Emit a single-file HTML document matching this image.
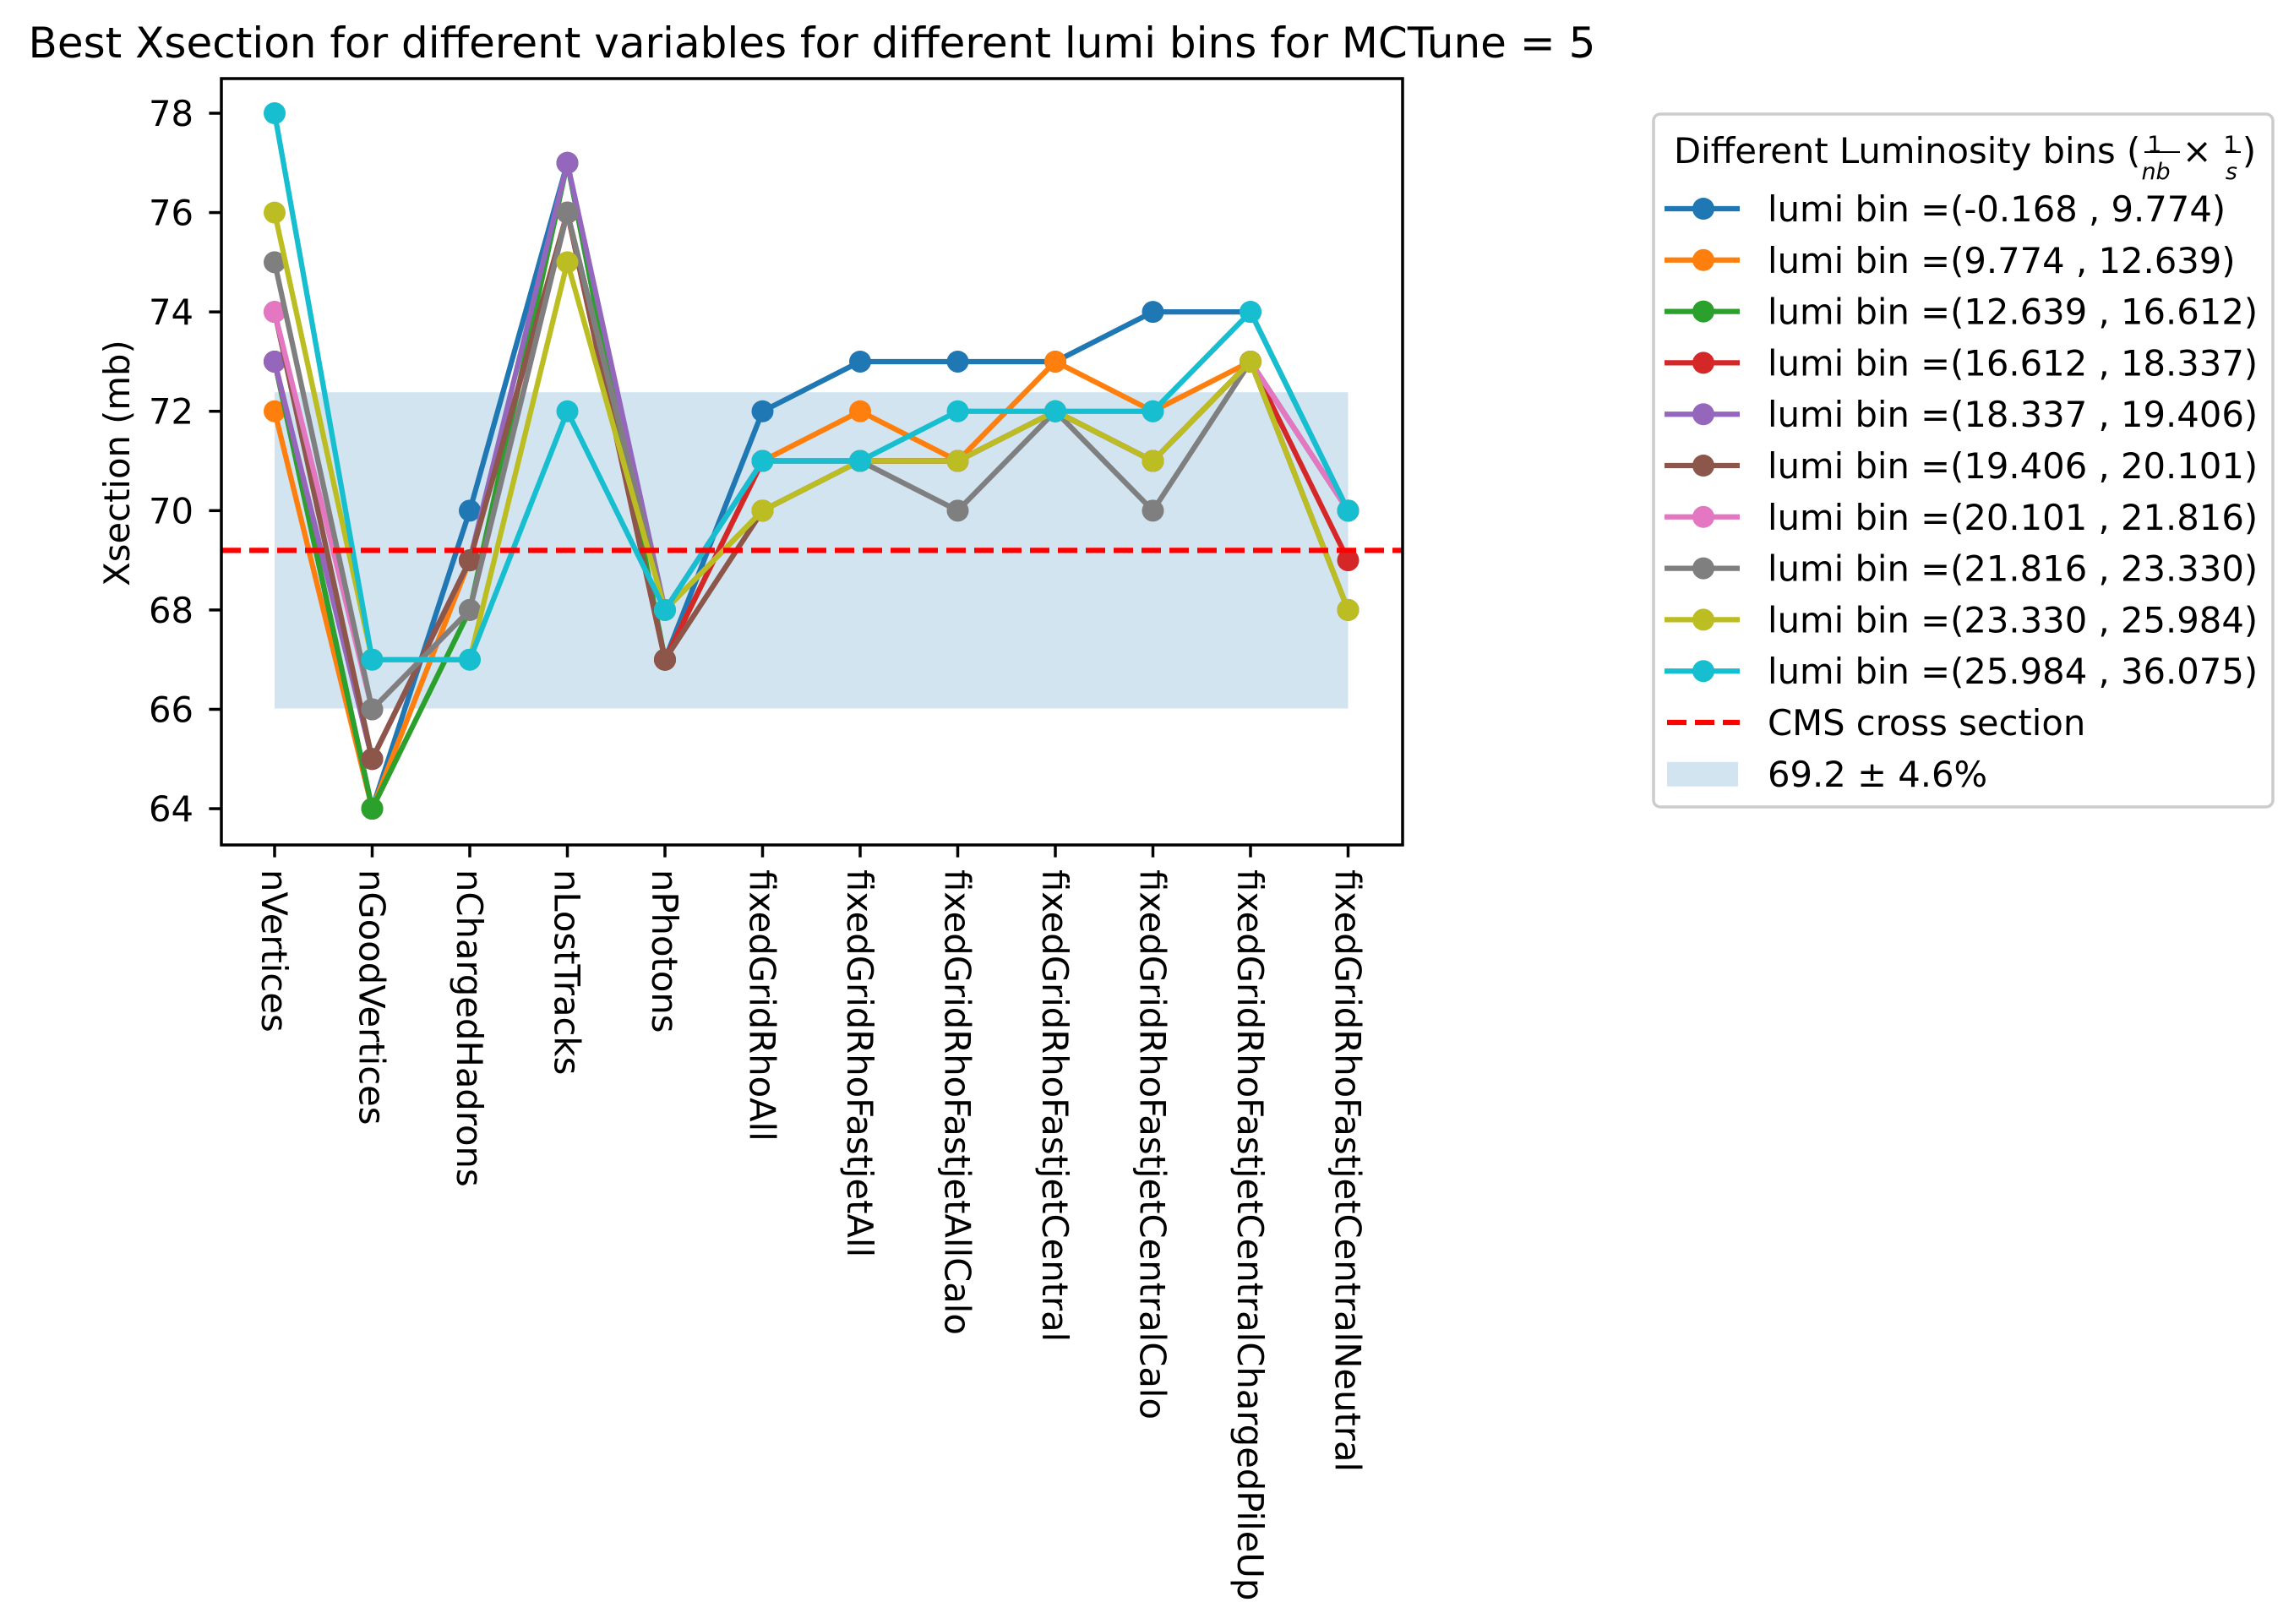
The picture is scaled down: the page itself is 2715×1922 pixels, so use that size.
<!DOCTYPE html>
<html>
<head>
<meta charset="utf-8">
<style>
  html, body { margin: 0; padding: 0; background: #fff; }
  svg { display: block; }
  text { font-family: "DejaVu Sans", "Liberation Sans", sans-serif; fill: #000; }
</style>
</head>
<body>
<svg id="chart" width="2715" height="1922" viewBox="0 0 2715 1922" xmlns="http://www.w3.org/2000/svg">
  <text x="961" y="68" font-size="50" text-anchor="middle">Best Xsection for different variables for different lumi bins for MCTune = 5</text>
  <g id="plot"></g>
  <g id="legend"></g>
</svg>
<script>
const categories = ["nVertices","nGoodVertices","nChargedHadrons","nLostTracks","nPhotons","fixedGridRhoAll","fixedGridRhoFastjetAll","fixedGridRhoFastjetAllCalo","fixedGridRhoFastjetCentral","fixedGridRhoFastjetCentralCalo","fixedGridRhoFastjetCentralChargedPileUp","fixedGridRhoFastjetCentralNeutral"];
const seriesLabels = ["lumi bin =(-0.168 , 9.774)","lumi bin =(9.774 , 12.639)","lumi bin =(12.639 , 16.612)","lumi bin =(16.612 , 18.337)","lumi bin =(18.337 , 19.406)","lumi bin =(19.406 , 20.101)","lumi bin =(20.101 , 21.816)","lumi bin =(21.816 , 23.330)","lumi bin =(23.330 , 25.984)","lumi bin =(25.984 , 36.075)"];
const seriesColors = ["#1f77b4","#ff7f0e","#2ca02c","#d62728","#9467bd","#8c564b","#e377c2","#7f7f7f","#bcbd22","#17becf"];
const s0 = [73,64,70,77,67,72,73,73,73,74,74,70];
const s1 = [72,64,69,76,67,71,72,71,73,72,73,70];
const s2 = [73,64,68,77,67,71,71,71,72,71,73,70];
const s3 = [73,65,69,76,67,71,71,71,72,71,73,69];
const s4 = [73,65,69,77,68,71,71,71,72,71,73,70];
const s5 = [74,65,69,76,67,70,71,71,72,71,73,68];
const s6 = [74,66,68,76,68,71,71,71,72,71,73,70];
const s7 = [75,66,68,76,68,70,71,70,72,70,73,68];
const s8 = [76,67,67,75,68,70,71,71,72,71,73,68];
const s9 = [78,67,67,72,68,71,71,72,72,72,74,70];
const seriesValues = [s0,s1,s2,s3,s4,s5,s6,s7,s8,s9];
const yTicks = [64,66,68,70,72,74,76,78];
const cmsValue = 69.2;
const cmsPct = 4.6;

const NS = "http://www.w3.org/2000/svg";
const AX = {l:262, r:1660, t:93, b:1000};
function xPos(i){ return 325 + i*115.5; }
function yPos(v){ return 134 + (78 - v)*58.79; }
function mk(tag, attrs, parent){
  const e = document.createElementNS(NS, tag);
  for (const k in attrs) e.setAttribute(k, attrs[k]);
  parent.appendChild(e);
  return e;
}
const plot = document.getElementById('plot');

const lo = cmsValue*(1-cmsPct/100), hi = cmsValue*(1+cmsPct/100);
const band = mk('rect', {x:xPos(0), y:yPos(hi), width:xPos(categories.length-1)-xPos(0), height:yPos(lo)-yPos(hi), fill:'#1f77b4', 'fill-opacity':0.2}, plot);



seriesValues.forEach((vals, si) => {
  const g = mk('g', {}, plot);
  
  
  const pts = vals.map((v,i)=> xPos(i)+','+yPos(v)).join(' ');
  const pl = mk('polyline', {points:pts, fill:'none', stroke:seriesColors[si], 'stroke-width':6.25, 'stroke-linejoin':'round', 'stroke-linecap':'square'}, g);
  
  
  vals.forEach((v,i) => {
    const c = mk('circle', {cx:xPos(i), cy:yPos(v), r:13, fill:seriesColors[si]}, g);
    
    
  });
});

const cl = mk('line', {x1:AX.l, x2:AX.r, y1:yPos(cmsValue), y2:yPos(cmsValue), stroke:'#ff0000', 'stroke-width':6.25, 'stroke-dasharray':'23 10'}, plot);



const fr = mk('rect', {x:AX.l, y:AX.t, width:AX.r-AX.l, height:AX.b-AX.t, fill:'none', stroke:'#000', 'stroke-width':3.5}, plot);



yTicks.forEach(v => {
  const y = yPos(v);
  const tl = mk('line', {x1:AX.l-14.6, x2:AX.l, y1:y, y2:y, stroke:'#000', 'stroke-width':3.5}, plot);
  
  
  const t = mk('text', {x:229, y:y+15, 'font-size':41.7, 'text-anchor':'end'}, plot);
  t.textContent = v;
  
  
});
const yl = mk('text', {x:0, y:0, 'font-size':41.7, 'text-anchor':'middle', transform:'translate(153,548) rotate(-90)'}, plot);
yl.textContent = 'Xsection (mb)';



categories.forEach((c,i) => {
  const x = xPos(i);
  const tl = mk('line', {x1:x, x2:x, y1:AX.b, y2:AX.b+14.6, stroke:'#000', 'stroke-width':3.5}, plot);
  
  
  const t = mk('text', {x:0, y:0, 'font-size':41.7, 'text-anchor':'start', transform:'translate('+(x-15)+','+(AX.b+29)+') rotate(90)'}, plot);
  t.textContent = c;
  
  
});

const lg = document.getElementById('legend');
const box = mk('rect', {x:1957, y:135, width:733, height:820, rx:8, fill:'#fff', 'fill-opacity':0.8, stroke:'#cccccc', 'stroke-width':3.5}, lg);


const lt = mk('text', {x:1981, y:193, 'font-size':41.7}, lg);


lt.innerHTML = 'Different Luminosity bins (<tspan font-size="27" dy="-13" dx="8">1</tspan><tspan font-size="27" font-style="italic" dx="-24" dy="32">nb</tspan><tspan dy="-19" dx="14">×</tspan><tspan font-size="27" dy="-13" dx="14">1</tspan><tspan font-size="27" font-style="italic" dx="-15" dy="32">s</tspan><tspan dy="-19" dx="6">)</tspan>';
mk('line', {x1:2538, x2:2580, y1:180, y2:180, stroke:'#000', 'stroke-width':2}, lg);
mk('line', {x1:2634, x2:2652, y1:180, y2:180, stroke:'#000', 'stroke-width':2}, lg);

seriesLabels.forEach((lab, si) => {
  const y = 247 + si*60.8;
  const g = mk('g', {}, lg);
  
  
  mk('line', {x1:1970, x2:2059, y1:y, y2:y, stroke:seriesColors[si], 'stroke-width':6.25}, g);
  mk('circle', {cx:2016, cy:y, r:13, fill:seriesColors[si]}, g);
  const t = mk('text', {x:2092, y:y+15, 'font-size':41.7}, g);
  t.textContent = lab;
});
const ycms = 247 + 10*60.8;
const gc = mk('g', {}, lg);


mk('line', {x1:1973, x2:2059, y1:ycms, y2:ycms, stroke:'#ff0000', 'stroke-width':6.25, 'stroke-dasharray':'23 10'}, gc);
const tc = mk('text', {x:2092, y:ycms+15, 'font-size':41.7}, gc);
tc.textContent = 'CMS cross section';
const yb = 247 + 11*60.8;
const gb = mk('g', {}, lg);


mk('rect', {x:1973, y:yb-14, width:84, height:29, fill:'#1f77b4', 'fill-opacity':0.2}, gb);
const tb = mk('text', {x:2092, y:yb+15, 'font-size':41.7}, gb);
tb.textContent = cmsValue + ' ± ' + cmsPct + '%';
</script>
</body>
</html>
